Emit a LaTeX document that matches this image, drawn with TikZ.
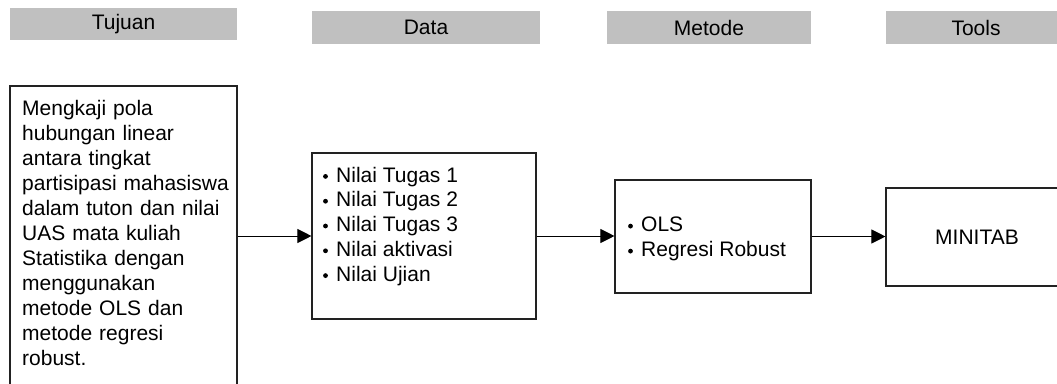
\documentclass[tikz,border=0pt]{standalone}
\usepackage{fontspec}
\setmainfont{Liberation Sans}
\usetikzlibrary{arrows.meta}
\definecolor{hdrgray}{HTML}{C0C0C0}
\definecolor{boxline}{HTML}{222222}
\tikzset{
  hdr/.style={fill=hdrgray, draw=none, inner sep=0pt, font=\fontsize{21}{21}\selectfont},
  box/.style={draw=boxline, line width=1.1pt, fill=white, inner sep=0pt},
  itemtxt/.style={anchor=base west, inner sep=0pt, font=\fontsize{21}{21}\selectfont},
  bul/.style={fill=black},
  arr/.style={-{Triangle[length=14pt,width=14pt]}, line width=1pt, black},
}
\begin{document}
\begin{tikzpicture}[x=1pt,y=-1pt]
\useasboundingbox (0,0) rectangle (1057,383);
% headers
\node[hdr, minimum width=227pt, minimum height=32pt] (h1) at (123.5,24) {Tujuan};
\node[hdr, minimum width=228pt, minimum height=33pt] (h2) at (426,27.5) {Data};
\node[hdr, minimum width=204pt, minimum height=33pt] (h3) at (709,27.5) {Metode};
\node[hdr, minimum width=180pt, minimum height=33pt] (h4) at (976,27.5) {Tools};
% boxes
\node[box, minimum width=227pt, minimum height=314pt] (goal) at (123.5,243) {};
\node[box, minimum width=224pt, minimum height=166pt] (data) at (424,236) {};
\node[box, minimum width=196pt, minimum height=113pt] (met) at (713,236.5) {};
\node[box, minimum width=182pt, minimum height=98pt, font=\fontsize{21}{21}\selectfont] (tool) at (977,237) {\raisebox{-2.5pt}{MINITAB}};
% goal text
\node[anchor=north west, inner sep=0pt, align=left, text width=215pt,
      font=\fontsize{21}{25}\selectfont] (goaltext) at (22,100.5)
 {Mengkaji pola\\
  hubungan linear\\
  antara tingkat\\
  partisipasi mahasiswa\\
  dalam tuton dan nilai\\
  UAS mata kuliah\\
  Statistika dengan\\
  menggunakan\\
  metode OLS dan\\
  metode regresi\\
  robust.};
% data list
\foreach \t [count=\i] in {Nilai Tugas 1, Nilai Tugas 2, Nilai Tugas 3, Nilai aktivasi, Nilai Ujian}{
  \node[itemtxt] (d\i) at (336,{182+(\i-1)*24.8}) {\t};
  \fill[bul] (325.5,{182+(\i-1)*24.8-5.6}) circle (2.4pt);
}
% method list
\foreach \t [count=\i] in {OLS, Regresi Robust}{
  \node[itemtxt] (m\i) at (641,{231.7+(\i-1)*25}) {\t};
  \fill[bul] (630.5,{231.7+(\i-1)*25-5.6}) circle (2.4pt);
}
% arrows
\draw[arr] (goal.east |- data.west) -- (data.west);
\draw[arr] (data.east) -- (met.west |- data.east);
\draw[arr] (met.east) -- (tool.west |- met.east);
\end{tikzpicture}
\end{document}
